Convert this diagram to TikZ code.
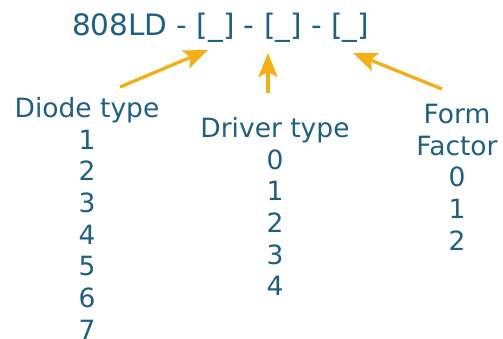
\documentclass[tikz,border=0pt]{standalone}
\usepackage{fontspec}
\setmainfont{DejaVu Sans}
\usetikzlibrary{arrows.meta}

\definecolor{textblue}{RGB}{31,95,127}
\definecolor{arroworange}{RGB}{244,174,24}

\begin{document}
\begin{tikzpicture}[x=1pt,y=-1pt,
	partno/.style={text=textblue,inner sep=0pt,anchor=base,font=\fontsize{29.5}{34}\selectfont},
	column/.style={text=textblue,inner sep=0pt,anchor=north,align=center,font=\fontsize{26.5}{31.7}\selectfont},
	pointer/.style={-{Stealth[length=24pt,width=19pt,inset=5pt]},draw=arroworange,line width=3.3pt}]

\useasboundingbox (0,0) rectangle (503,338);

\node[partno]   (code)    at (220.5,35)      {808LD - [\_] - [\_] - [\_]};

\node[column]   (diode)   at (87,97)      {Diode type\\1\\2\\3\\4\\5\\6\\7};
\node[column]   (driver)  at (275,117)      {Driver type\\0\\1\\2\\3\\4};
\node[column]   (form)    at (457,104)      {Form\\Factor\\0\\1\\2};

\coordinate   (diodetail)    at (120,87);
\coordinate   (diodehead)    at (208,50);
\coordinate   (drivertail)   at (268,93);
\coordinate   (driverhead)   at (268,53);
\coordinate   (formtail)     at (442,89);
\coordinate   (formhead)     at (353,53);

	\draw[pointer] (diodetail)  --	 (diodehead);
	\draw[pointer] (drivertail)  --	 (driverhead);
	\draw[pointer] (formtail)  --	 (formhead);
\end{tikzpicture}
\end{document}
